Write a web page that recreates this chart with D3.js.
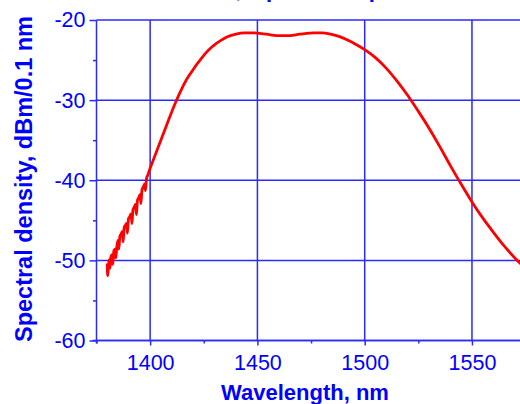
<!DOCTYPE html>
<html>
<head>
<meta charset="utf-8">
<script src="https://cdn.jsdelivr.net/npm/d3@7"></script>
<style>
body { margin: 0; background: #fff; }
svg { display: block; }
</style>
</head>
<body>
<div id="chart"></div>
<script>
// wavelength, nm
var wavelength = [1380.0, 1380.2, 1380.5, 1380.9, 1381.3, 1381.7, 1382.2, 1382.6, 1383.1, 1383.6,
    1384.0, 1384.5, 1385.0, 1385.4, 1385.9, 1386.5, 1387.0, 1387.4, 1387.9, 1388.5,
    1389.0, 1389.4, 1389.9, 1390.6, 1391.1, 1391.5, 1392.0, 1392.7, 1393.2, 1393.6,
    1394.1, 1394.8, 1395.3, 1395.7, 1396.2, 1396.9, 1397.4, 1397.8, 1398.3, 1399.0,
    1400, 1402, 1404, 1406, 1408, 1410, 1412, 1414, 1416, 1418,
    1420, 1422, 1424, 1426, 1428, 1430, 1433, 1436, 1440, 1444,
    1448, 1452, 1456, 1460, 1464, 1468, 1472, 1476, 1480, 1484,
    1488, 1492, 1496, 1500, 1505, 1510, 1515, 1520, 1525, 1530,
    1535, 1540, 1545, 1550, 1555, 1560, 1565, 1570, 1575];

// spectral density, dBm/0.1 nm
var density = [-50.4, -51.9, -50.9, -49.9, -51.0, -49.6, -49.3, -50.5, -48.8, -48.6,
    -49.7, -48.2, -47.5, -48.6, -47.0, -46.7, -46.4, -47.7, -45.9, -45.6,
    -45.4, -46.6, -44.8, -44.5, -44.2, -45.4, -43.7, -43.3, -43.0, -44.3,
    -42.5, -42.1, -41.8, -42.9, -41.2, -40.8, -40.5, -41.3, -39.8, -39.3,
    -38.5, -37.1, -35.7, -34.3, -32.9, -31.5, -30.2, -29.0, -27.9, -27.0,
    -26.2, -25.45, -24.75, -24.1, -23.55, -23.1, -22.55, -22.1, -21.75, -21.6,
    -21.6, -21.7, -21.85, -21.95, -21.95, -21.85, -21.7, -21.6, -21.6, -21.75,
    -22.05, -22.5, -23.05, -23.7, -24.7, -26.0, -27.6, -29.4, -31.4, -33.5,
    -35.8, -38.2, -40.5, -42.7, -44.7, -46.5, -48.2, -49.7, -51.0];

var xMajor = [1400, 1450, 1500, 1550];
var xMinor = [1375, 1425, 1475, 1525, 1575];
var yMajor = [-20, -30, -40, -50, -60];
var yMinor = [-25, -35, -45, -55];

var width = 520, height = 404;
var blue = "#0000ff", grid = "#2a2aff";

var x = d3.scaleLinear().domain([1375, 1575]).range([96.5, 525.6]);
var y = d3.scaleLinear().domain([-60, -20]).range([340.5, 20]);

var svg = d3.select("#chart")
    .append("svg")
    .attr("width", width)
    .attr("height", height);

svg.append("defs").append("clipPath")
    .attr("id", "plot")
    .append("rect")
    .attr("x", x(1375))
    .attr("y", y(-20) - 2)
    .attr("width", x(1575) - x(1375))
    .attr("height", y(-60) - y(-20) + 2);

// grid
svg.append("g")
    .selectAll("line")
    .data(xMajor)
    .enter()
    .append("line")
    .attr("x1", function(d) { return x(d); })
    .attr("x2", function(d) { return x(d); })
    .attr("y1", y(-20))
    .attr("y2", y(-60))
    .attr("stroke", grid)
    .attr("stroke-width", 1.5);

svg.append("g")
    .selectAll("line")
    .data(yMajor)
    .enter()
    .append("line")
    .attr("x1", x(1375))
    .attr("x2", x(1575))
    .attr("y1", function(d) { return y(d); })
    .attr("y2", function(d) { return y(d); })
    .attr("stroke", grid)
    .attr("stroke-width", 1.5);

// axes (plain hyphen for the minus sign, as in the original)
var fmt = function(d) { return String(d); };

svg.append("g")
    .attr("transform", "translate(0," + y(-60) + ")")
    .call(d3.axisBottom(x).tickValues(xMajor).tickSize(5).tickPadding(9).tickFormat(fmt));
svg.append("g")
    .attr("transform", "translate(0," + y(-60) + ")")
    .call(d3.axisBottom(x).tickValues(xMinor).tickSize(3).tickFormat(""));

svg.append("g")
    .attr("transform", "translate(" + x(1375) + ",0)")
    .call(d3.axisLeft(y).tickValues(yMajor).tickSize(7).tickPadding(4).tickFormat(fmt));
svg.append("g")
    .attr("transform", "translate(" + x(1375) + ",0)")
    .call(d3.axisLeft(y).tickValues(yMinor).tickSize(3.5).tickFormat(""));

svg.selectAll(".domain").remove();
svg.selectAll(".tick line").attr("stroke", grid).attr("stroke-width", 1.5);
svg.selectAll(".tick text")
    .attr("fill", blue)
    .attr("font-family", "Liberation Sans, Arial, sans-serif")
    .attr("font-size", 21.5);

svg.append("line")
    .attr("x1", x(1375)).attr("x2", x(1375))
    .attr("y1", y(-20)).attr("y2", y(-60) + 3)
    .attr("stroke", grid).attr("stroke-width", 1.5);
svg.append("line")
    .attr("x1", x(1375) - 4).attr("x2", x(1575))
    .attr("y1", y(-60)).attr("y2", y(-60))
    .attr("stroke", grid).attr("stroke-width", 1.5);

// spectrum
var line = d3.line()
    .x(function(d, i) { return x(wavelength[i]); })
    .y(function(d) { return y(d); })
    .curve(d3.curveMonotoneX);

svg.append("path")
    .datum(density)
    .attr("clip-path", "url(#plot)")
    .attr("d", line)
    .attr("fill", "none")
    .attr("stroke", "#ff0000")
    .attr("stroke-width", 2.8)
    .attr("stroke-linejoin", "round");

// titles
svg.append("text")
    .attr("x", 305)
    .attr("y", 400)
    .attr("text-anchor", "middle")
    .attr("font-family", "Liberation Sans, Arial, sans-serif")
    .attr("font-weight", "bold")
    .attr("font-size", 22)
    .attr("fill", blue)
    .text("Wavelength, nm");

svg.append("text")
    .attr("transform", "translate(32,179) rotate(-90)")
    .attr("text-anchor", "middle")
    .attr("font-family", "Liberation Sans, Arial, sans-serif")
    .attr("font-weight", "bold")
    .attr("font-size", 23.5)
    .attr("fill", blue)
    .text("Spectral density, dBm/0.1 nm");

// chart title, mostly above the top edge of the picture
svg.append("text")
    .attr("x", 90)
    .attr("y", -3)
    .attr("font-family", "Liberation Sans, Arial, sans-serif")
    .attr("font-weight", "bold")
    .attr("font-size", 22)
    .attr("fill", blue)
    .text("SLD emission, a polarized probe");
</script>
</body>
</html>
